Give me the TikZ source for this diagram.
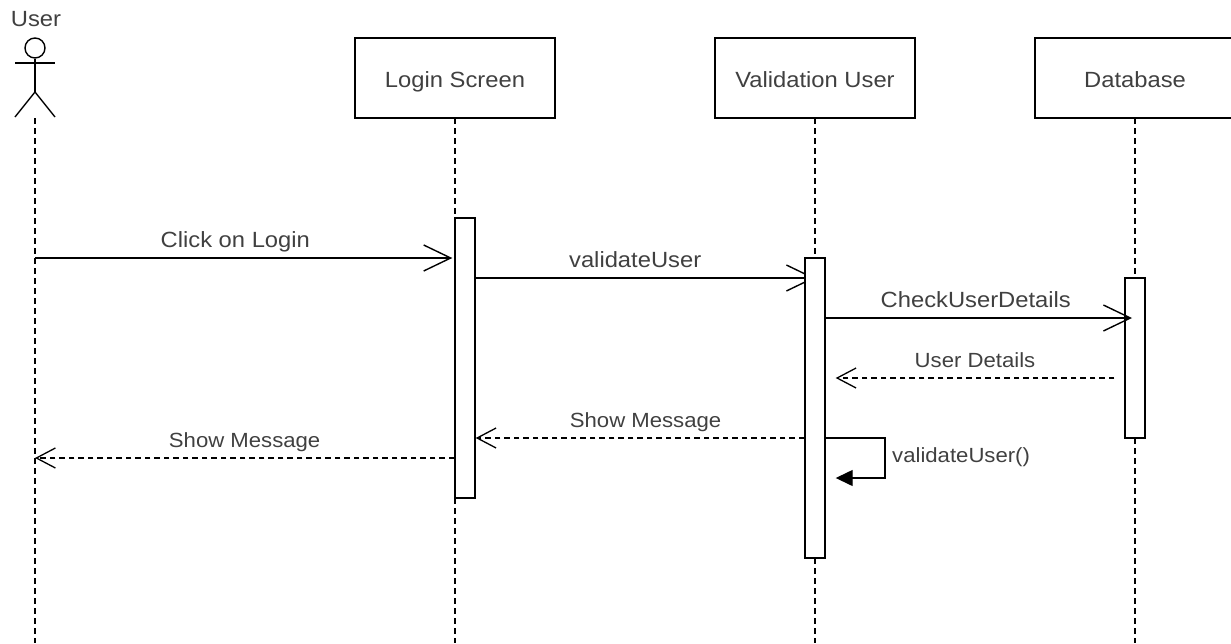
\documentclass[tikz,border=0pt]{standalone}
\usepackage{fontspec}
\setmainfont[FakeStretch=1.08]{Liberation Sans}
\usetikzlibrary{arrows.meta,calc,backgrounds}
\tikzset{
  lifebox/.style={draw, line width=1.4pt, fill=white, minimum width=200pt, minimum height=80pt, inner sep=0pt, text=black!75, text height=23pt, text depth=5pt, font=\fontsize{22}{24}\selectfont},
  actbar/.style={draw, line width=1.4pt, fill=white, minimum width=20pt, inner sep=0pt},
  lifeline/.style={line width=1.3pt, dash pattern=on 5.5pt off 4.5pt},
  msg/.style={line width=1.4pt, -{Straight Barb[length=27pt,width=26pt,line width=1.4pt]}},
  rep/.style={line width=1.3pt, dash pattern=on 5.5pt off 4pt, -{Straight Barb[length=19pt,width=20pt,line width=1.3pt,line cap=butt]}},
  lab/.style={text=black!75, font=\fontsize{20.5}{24}\selectfont, inner sep=0pt, anchor=base},
  biglab/.style={lab, font=\fontsize{22}{24}\selectfont}
}
\begin{document}
\begin{tikzpicture}[x=1pt, y=-1pt]
    \useasboundingbox (0,0) rectangle (1231,643);
    \clip (0,0) rectangle (1231,643);

    % Lignes de vie
    \coordinate (userEnd) at (35,643);
    \node[biglab] (userLabel) at (36,26) {User};
    \coordinate (userFoot) at (35,118);
    \draw[lifeline] (userFoot) -- (userEnd);
    \foreach \name/\x/\txt in {login/455/Login Screen, valid/815/Validation User, base/1135/Database} {
      \draw[lifeline] (\x,78) -- (\x,643);
      \node[lifebox] (\name) at (\x,78) {\txt};
    }

    % Acteur
    \node[draw, circle, line width=1.4pt, minimum size=20pt, inner sep=0pt] (userHead) at (35,48) {};
    \coordinate (userHip) at (35,92);
    \draw[line width=1.4pt] (userHead.south) -- (userHip);
    \draw[line width=1.4pt] (15,63) -- (55,63);
    \draw[line width=1.4pt] (15,117) -- (userHip) -- (55,117);

    % Barres d'activation
    \node[actbar, minimum height=280pt] (loginBar) at (465,358) {};
    \node[actbar, minimum height=300pt] (validBar) at (815,408) {};
    \node[actbar, minimum height=160pt] (baseBar) at (1135,358) {};

    % Messages
    \coordinate (clickStart) at (35,258);
    \draw[msg] (clickStart) -- ($(clickStart -| loginBar.west)+(-2,0)$)
      node[biglab, pos=0.48, yshift=11pt] (clickLabel) {Click on Login};
    \coordinate (validStart) at (loginBar.east |- 0,278);
    \begin{scope}[on background layer]
      \draw[msg] (validStart) -- (validStart -| validBar.center)
        node[biglab, pos=0.47, yshift=11pt] (validLabel) {validateUser};
    \end{scope}
    \coordinate (checkStart) at (validBar.east |- 0,318);
    \draw[msg] (checkStart) -- ($(checkStart -| baseBar.center)+(-3,0)$)
      node[biglab, pos=0.49, yshift=11pt] (checkLabel) {CheckUserDetails};

    % Retours
    \coordinate (detailStart) at ($(baseBar.west |- 0,378)+(-10,0)$);
    \draw[rep] (detailStart) -- ($(detailStart -| validBar.east)+(10,0)$)
      node[lab, pos=0.5, yshift=11pt] (detailLabel) {User Details};
    \coordinate (showStart) at (validBar.west |- 0,438);
    \draw[rep] (showStart) -- (showStart -| loginBar.east)
      node[lab, pos=0.483, yshift=11pt] (showLabel) {Show Message};
    \coordinate (backStart) at (loginBar.west |- 0,458);
    \draw[rep] (backStart) -- (backStart -| userEnd)
      node[lab, pos=0.5, yshift=11pt] (backLabel) {Show Message};

    % Appel local
    \coordinate (selfStart) at (validBar.east |- 0,438);
    \coordinate (selfEnd) at ($(validBar.east |- 0,478)+(10,0)$);
    \draw[line width=1.4pt, -{Triangle[length=17pt,width=16pt]}] (selfStart) -- (885,438) -- (885,478) -- (selfEnd);
    \node[lab, anchor=base west] (selfLabel) at (892,462) {validateUser()};
  \end{tikzpicture}
\end{document}
